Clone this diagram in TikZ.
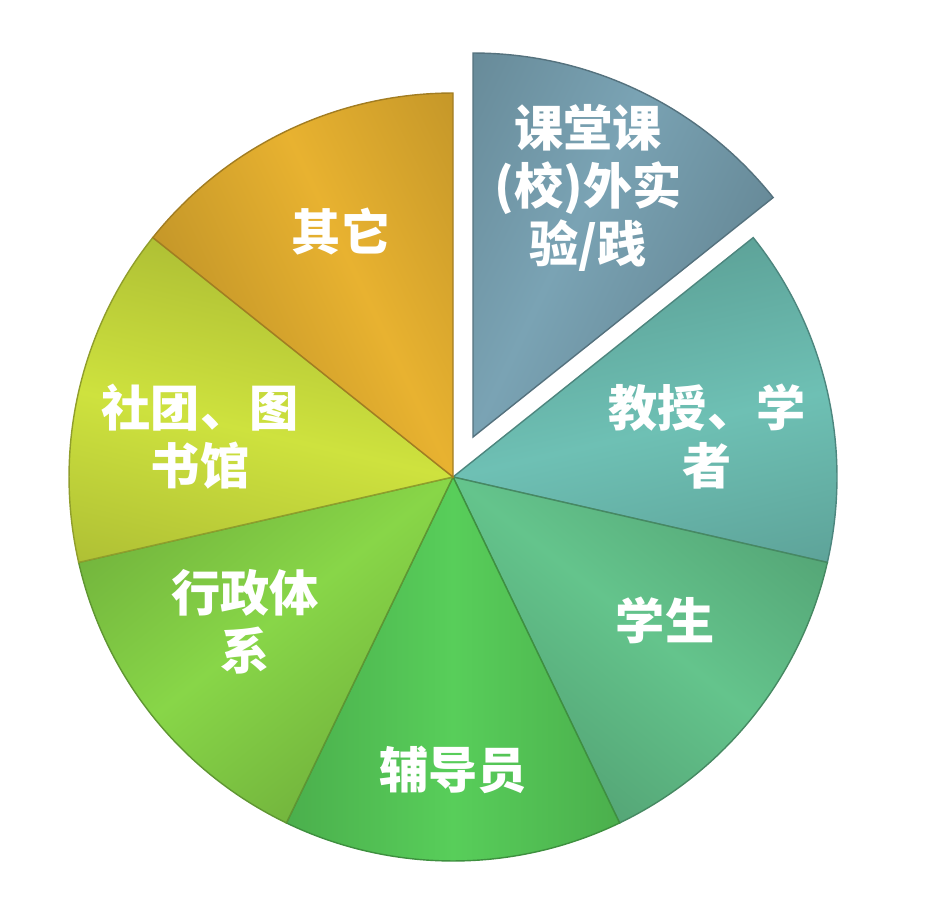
\documentclass[tikz,border=0pt]{standalone}
\usepackage{fontspec}
\newfontfamily\cjk{Noto Sans CJK SC}
\definecolor{ketang}{HTML}{7AA3B4}
\definecolor{jiaoshou}{HTML}{6EC0B4}
\definecolor{xuesheng}{HTML}{64C48C}
\definecolor{fudao}{HTML}{58CE5A}
\definecolor{xingzheng}{HTML}{88D648}
\definecolor{shetuan}{HTML}{CEE23E}
\definecolor{qita}{HTML}{E8B230}

\begin{document}
\begin{tikzpicture}[
    lbl/.style={text=white, font=\cjk\bfseries\fontsize{14}{16.5}\selectfont, align=center},
    slice/.style={top color=#1!85!black, bottom color=#1!85!black, middle color=#1,
                  draw=#1!70!black, line width=0.4pt},
  ]
    \useasboundingbox (0,0) rectangle (9.28,9.16);
    \coordinate (O) at (4.53,4.39);

    % Die Stuecke (je 360/7 Grad), Mitte bei \b, das erste herausgezogen
    \foreach \b/\dx/\dy/\c in {64.29/0.2/0.4/ketang, 12.86/0/0/jiaoshou, -38.57/0/0/xuesheng,
                               -90/0/0/fudao, -141.43/0/0/xingzheng, -192.86/0/0/shetuan,
                               -244.29/0/0/qita} {
        \begin{scope}[transform canvas={shift={(4.53+\dx,4.39+\dy)}, rotate=\b}]
            \shade[slice=\c] (0,0) -- (-25.71:3.84)
                arc[start angle=-25.71, end angle=25.71, radius=3.84] -- cycle;
        \end{scope}
    }

    % Beschriftung
    \node[lbl] (ketang-lbl)    at (5.88,7.28) {课堂课\\(校)外实\\验/践};
    \node[lbl] (jiaoshou-lbl)  at (7.07,4.79) {教授、学\\者};
    \node[lbl] (xuesheng-lbl)  at (6.65,2.96) {学生};
    \node[lbl] (fudao-lbl)     at (4.53,1.46) {辅导员};
    \node[lbl] (xingzheng-lbl) at (2.45,2.94) {行政体\\系};
    \node[lbl] (shetuan-lbl)   at (2.00,4.79) {社团、图\\书馆};
    \node[lbl] (qita-lbl)      at (3.41,6.84) {其它};
\end{tikzpicture}
\end{document}
